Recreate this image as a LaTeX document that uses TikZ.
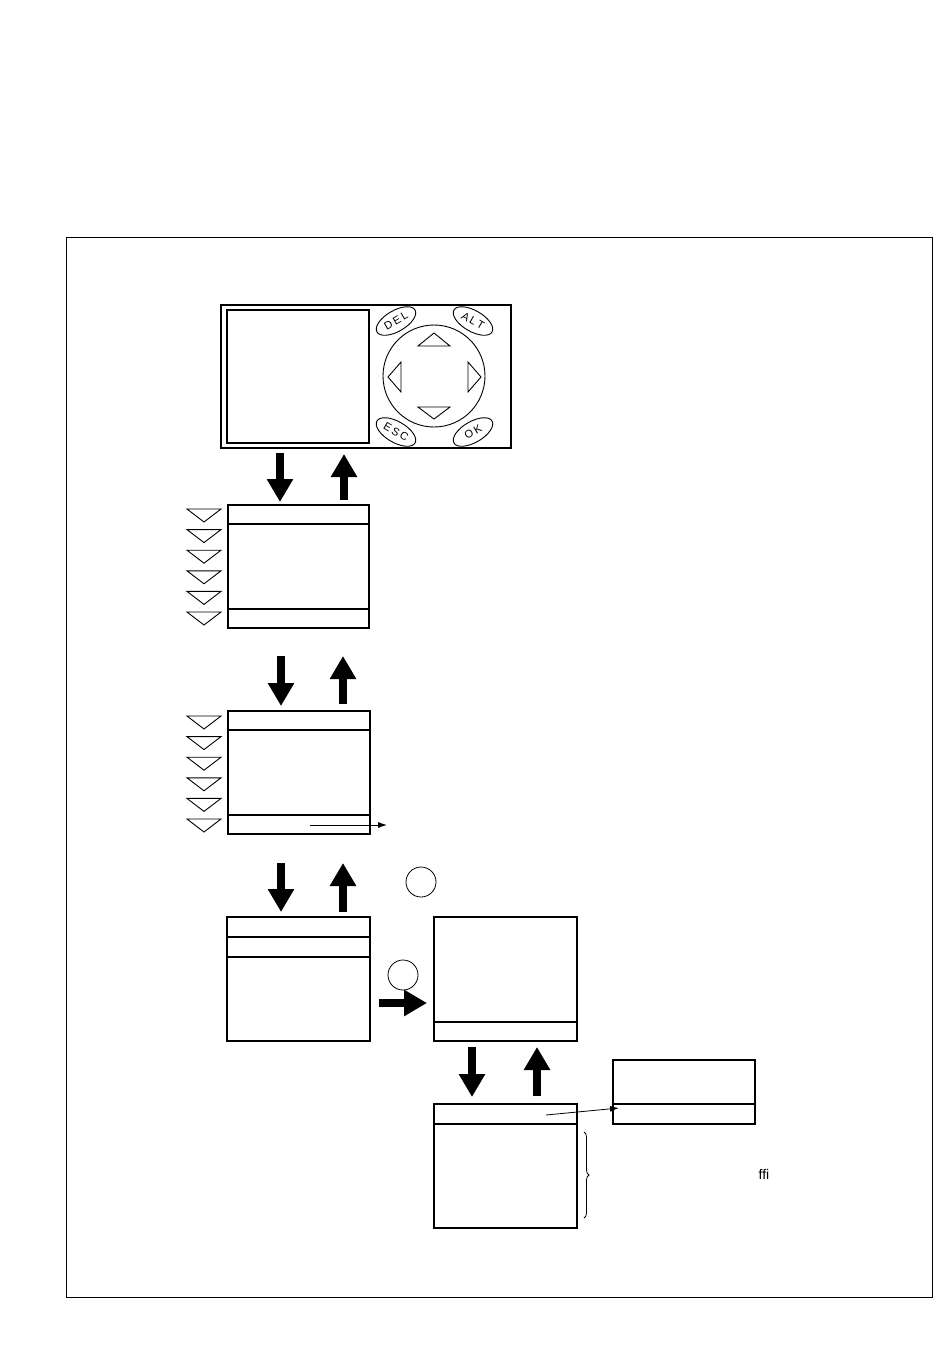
\documentclass[tikz,border=0pt]{standalone}
\usepackage{fontspec}
\newfontfamily\keyfont{Liberation Sans}
\usetikzlibrary{arrows.meta,shapes.geometric,decorations.pathreplacing}
\begin{document}
\begin{tikzpicture}[x=1pt,y=-1pt,
  scr/.style={draw,line width=1.1pt,anchor=north west,inner sep=0pt,outer sep=0pt},
  sep/.style={line width=1.1pt},
  bigarrow/.style={line width=8pt,-{Triangle[length=23pt,width=25pt]}},
  thinarrow/.style={line width=0.8pt,-{Latex[length=9pt,width=6pt]}},
  keyoval/.style={draw,ellipse,line width=0.9pt,minimum width=44pt,minimum height=21pt,inner sep=0pt,font=\keyfont\fontsize{11}{11}\selectfont},
  tri/.style={draw,line width=0.9pt},
  ring/.style={draw,circle,line width=0.8pt,minimum size=30pt,inner sep=0pt}
]
\useasboundingbox (0,0) rectangle (950,1369);
% outer frame
\node[draw,line width=0.9pt,anchor=north west,minimum width=866pt,minimum height=1060pt,inner sep=0pt] (frame) at (66,237) {};

% keypad panel
\node[scr,minimum width=290pt,minimum height=143pt] (panel) at (221,305) {};
\node[scr,minimum width=142pt,minimum height=133pt] (lcd) at (227,310) {};
\node[draw,circle,minimum size=102pt,inner sep=0pt,line width=0.9pt] (pad) at (434,376) {};
\draw[tri] (418,346) -- (450,346) -- (434,333) -- cycle;
\draw[tri] (418,407) -- (450,407) -- (434,419) -- cycle;
\draw[tri] (401,362) -- (401,392) -- (388,377) -- cycle;
\draw[tri] (468,362) -- (468,392) -- (481,377) -- cycle;
\node[keyoval,rotate=30] (del) at (396,321) {D\hspace{2pt}E\hspace{2pt}L};
\node[keyoval,rotate=-30] (alt) at (473,321) {A\hspace{2pt}L\hspace{2pt}T};
\node[keyoval,rotate=-30] (esc) at (396,432) {E\hspace{2pt}S\hspace{2pt}C};
\node[keyoval,rotate=30] (ok) at (473,432) {O\hspace{2pt}K};

% screens
\node[scr,minimum width=141pt,minimum height=123pt] (box1) at (228,505) {};
\draw[sep] ([yshift=-19pt]box1.north west) -- ([yshift=-19pt]box1.north east);
\draw[sep] ([yshift=-104pt]box1.north west) -- ([yshift=-104pt]box1.north east);

\node[scr,minimum width=142pt,minimum height=123pt] (box2) at (228,711) {};
\draw[sep] ([yshift=-19pt]box2.north west) -- ([yshift=-19pt]box2.north east);
\draw[sep] ([yshift=-104pt]box2.north west) -- ([yshift=-104pt]box2.north east);

\node[scr,minimum width=143pt,minimum height=124pt] (box3) at (227,917) {};
\draw[sep] ([yshift=-20pt]box3.north west) -- ([yshift=-20pt]box3.north east);
\draw[sep] ([yshift=-40pt]box3.north west) -- ([yshift=-40pt]box3.north east);

\node[scr,minimum width=143pt,minimum height=124pt] (box4) at (434,917) {};
\draw[sep] ([yshift=-105pt]box4.north west) -- ([yshift=-105pt]box4.north east);
\draw[line width=2.2pt] (box4.south west) -- (box4.south east);

\node[scr,minimum width=143pt,minimum height=124pt] (box5) at (434,1104) {};
\draw[sep] ([yshift=-20pt]box5.north west) -- ([yshift=-20pt]box5.north east);
\draw[line width=2.2pt] (box5.north west) -- (box5.north east);

\node[scr,minimum width=142pt,minimum height=64pt] (box6) at (613,1060) {};
\draw[sep] ([yshift=-44pt]box6.north west) -- ([yshift=-44pt]box6.north east);

% side triangles
\foreach \i in {0,...,5} {
  \draw[tri] (187,{509+20.6*\i}) -- (221,{509+20.6*\i}) -- (204,{522+20.6*\i}) -- cycle;
  \draw[tri] (187,{716+20.6*\i}) -- (221,{716+20.6*\i}) -- (204,{729+20.6*\i}) -- cycle;
}

% column coordinates
\coordinate (c1) at (280,0);
\coordinate (c2) at (344,0);
\coordinate (c3) at (281,0);
\coordinate (c4) at (343,0);
\coordinate (c5) at (472,0);
\coordinate (c6) at (537,0);
\coordinate (cy) at (0,1003);

% thick arrows
\draw[bigarrow,shorten <=5pt,shorten >=3pt] (panel.south -| c1) -- (box1.north -| c1);
\draw[bigarrow,shorten <=5pt,shorten >=6pt] (box1.north -| c2) -- (panel.south -| c2);
\draw[bigarrow,shorten <=28pt,shorten >=5pt] (box1.south -| c3) -- (box2.north -| c3);
\draw[bigarrow,shorten <=7pt,shorten >=28pt] (box2.north -| c4) -- (box1.south -| c4);
\draw[bigarrow,shorten <=29pt,shorten >=5pt] (box2.south -| c3) -- (box3.north -| c3);
\draw[bigarrow,shorten <=5pt,shorten >=29pt] (box3.north -| c4) -- (box2.south -| c4);
\draw[bigarrow,shorten <=6pt,shorten >=7pt] (box4.south -| c5) -- (box5.north -| c5);
\draw[bigarrow,shorten <=8pt,shorten >=6pt] (box5.north -| c6) -- (box4.south -| c6);
\draw[bigarrow,shorten <=9pt,shorten >=7pt] (box3.east |- cy) -- (box4.west |- cy);

% thin arrows
\coordinate (s2) at (310,825);
\coordinate (e2) at (387,825);
\draw[thinarrow] (s2) -- (e2);
\coordinate (s5) at (546,1115);
\coordinate (e6) at (619,1108);
\draw[thinarrow] (s5) -- (e6);

% circles
\node[ring] (r1) at (421,882) {};
\node[ring] (r2) at (403,975) {};

% brace
\draw[line width=0.8pt,decorate,decoration={brace,amplitude=5pt}] (584,1132) -- (584,1218);

\node[font=\keyfont\fontsize{14}{14}\selectfont] (ffi) at (764,1174) {ffi};
\end{tikzpicture}
\end{document}
